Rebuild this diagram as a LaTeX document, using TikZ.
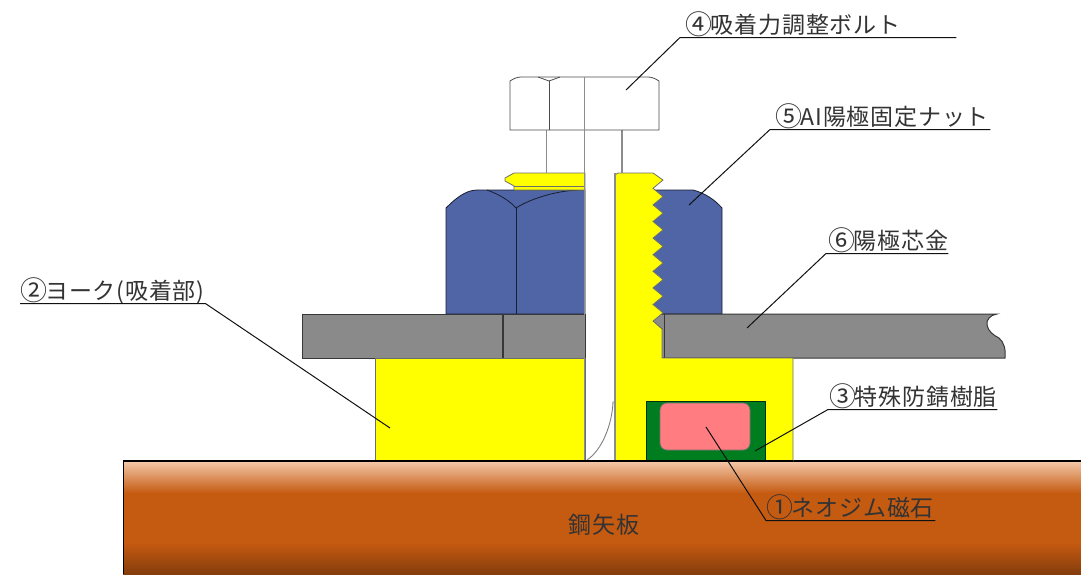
\documentclass[tikz,border=0pt]{standalone}
\usepackage{fontspec}
\setmainfont[LetterSpace=3.5]{Noto Sans CJK JP}
\definecolor{txt}{HTML}{333333}
\definecolor{lead}{HTML}{111111}
\definecolor{edgeg}{HTML}{6E6E6E}
\definecolor{ypure}{RGB}{255,255,0}
\definecolor{ygreen}{HTML}{007D1E}
\definecolor{magnet}{HTML}{FF7C80}
\definecolor{nutblue}{HTML}{4F65A5}
\definecolor{plateg}{HTML}{8A8A8A}
\definecolor{steelA}{HTML}{F4C9AA}
\definecolor{steelB}{HTML}{C55A11}
\definecolor{steelC}{HTML}{843C0C}
\pgfdeclareverticalshading{steelshade}{100bp}{color(0bp)=(steelC); color(25bp)=(steelC); color(38.7bp)=(steelB); color(60.8bp)=(steelB); color(75bp)=(steelA); color(100bp)=(steelA)}
\newcommand\cnum[1]{\makebox[23.6pt][c]{\raisebox{-1.5pt}{\fontsize{27}{24}\selectfont #1}}}
\tikzset{
  callout/.style={anchor=south west,inner sep=0pt,text depth=4pt,text height=18pt,font=\fontsize{23}{24}\selectfont,text=txt,align=left},
  leader/.style={draw=lead,line width=1pt},
  yellowpart/.style={fill=ypure,draw=edgeg,line width=0.8pt},
  nutpart/.style={fill=nutblue,draw=black!70!nutblue,line width=0.8pt},
  platepart/.style={fill=plateg,draw=black!60!plateg,line width=1pt},
  grayline/.style={draw=black!45,line width=1.2pt},
  boltline/.style={draw=black!70,line width=0.8pt},
}
\begin{document}
\begin{tikzpicture}[x=1pt,y=-1pt]
\useasboundingbox (0,0) rectangle (1081,574);
% steel sheet pile
\shade[shading=steelshade] (123,461) rectangle (1081,574);
\draw[black,line width=1.6pt] (123.5,574) -- (123.5,461) -- (1081,461);
% nut
\path[nutpart] (585,314) -- (446,314) -- (446,208) .. controls (454,200) and (465,190) .. (477,190) -- (585,190) -- cycle;
\path[nutpart] (650,190) -- (693,190) .. controls (705,193) and (715,200) .. (722,208) -- (722,314) -- (650,314) -- cycle;
\draw[draw=black!70!nutblue,line width=0.8pt] (516,314) -- (516,208);
\draw[draw=black!70!nutblue,line width=0.8pt] (487,190) .. controls (498,194) and (509,200) .. (516,208) .. controls (530,199) and (555,191) .. (578,190);
% plate
\path[platepart] (302.5,314) rectangle (585,358);
\draw[draw=black!60!plateg,line width=1.2pt] (503,314) -- (503,358);
\path[platepart] (650,314) -- (997,314) .. controls (990,315) and (986,320) .. (987,325) .. controls (988,331) and (993,335) .. (999,338) .. controls (1004,342) and (1006,350) .. (1005,358) -- (650,358) -- cycle;
\draw[draw=black!60!plateg,line width=1pt] (664.5,314) -- (664.5,358);
% yoke and threaded stud
\path[yellowpart] (375,358) rectangle (585,461);
\path[yellowpart] (615,461) -- (615,175) -- (618,173) -- (653,173) -- (663,180)
  \foreach \k in {0,...,8} { -- ({653},{188.3+16.6*\k}) -- ({663},{196.6+16.6*\k}) }
  -- (653,321) -- (662,329) -- (662,358) -- (793,358) -- (793,461) -- cycle;
\path[yellowpart] (505,178) -- (514,173) -- (585,173) -- (585,190) -- (514,190) -- (514,186) -- (505,181) -- cycle;
\draw[draw=edgeg,line width=0.7pt] (514,186) -- (585,186);
% bolt
\draw[grayline] (546.5,130) -- (546.5,173);
\draw[grayline] (622,130) -- (622,173);
\path[fill=white,boltline] (510,130) -- (510,81) .. controls (513,79) and (517,77) .. (521,77) -- (648,77) .. controls (652,77) and (656,79) .. (659,81) -- (659,130) -- cycle;
\draw[boltline] (549,130) -- (549,81);
\draw[boltline] (538,77) -- (549,81) -- (560,77);
\draw[grayline] (584.5,77) -- (584.5,461);
\draw[grayline] (615,173) -- (615,461);
\draw[draw=black!50,line width=0.9pt] (587,460) .. controls (602,450) and (612,425) .. (613,402) -- (615,402);
% magnet and resin
\path[fill=ygreen,draw=black!60!ygreen,line width=0.8pt] (646,461) -- (646,401) -- (765,401) -- (765,461) -- cycle;
\path[fill=magnet,draw=black!55,line width=0.8pt,rounded corners=7pt] (660,403) rectangle (750,450);
\draw[black,line width=1.3pt] (375,461) -- (793,461);
% labels
\node[callout,text width=276pt] (n4) at (680,37.5) {\hspace*{7pt}\cnum{④}吸着力調整ボルト};
\node[callout,text width=220pt] (n5) at (770,129.5) {\hspace*{7pt}\cnum{⑤}AI陽極固定ナット};
\node[callout,text width=122pt] (n6) at (826,253.5) {\hspace*{4pt}\cnum{⑥}陽極芯金};
\node[callout,text width=185pt] (n2) at (20,303.5) {\hspace*{1.5pt}\cnum{②}ヨーク(吸着部)};
\node[callout,text width=169pt] (n3) at (828,409.5) {\hspace*{3pt}\cnum{③}特殊防錆樹脂};
\node[callout,text width=169pt] (n1) at (766,520.5) {\hspace*{2pt}\cnum{①}ネオジム磁石};
\node[font=\fontsize{23}{24}\selectfont,text=txt,inner sep=0pt] (n7) at (604,525) {鋼矢板};
% leader tips
\coordinate (t4) at (626,90);
\coordinate (t5) at (689,205);
\coordinate (t6) at (747,328);
\coordinate (t2) at (390,428);
\coordinate (t3) at (755,451);
\coordinate (t1) at (706,427);
\draw[leader] (t4) -- (n4.south west) -- (n4.south east);
\draw[leader] (t5) -- (n5.south west) -- (n5.south east);
\draw[leader] (t6) -- (n6.south west) -- (n6.south east);
\draw[leader] (t2) -- (n2.south east) -- (n2.south west);
\draw[leader] (t3) -- (n3.south west) -- (n3.south east);
\draw[leader] (t1) -- (n1.south west) -- (n1.south east);
\end{tikzpicture}
\end{document}
